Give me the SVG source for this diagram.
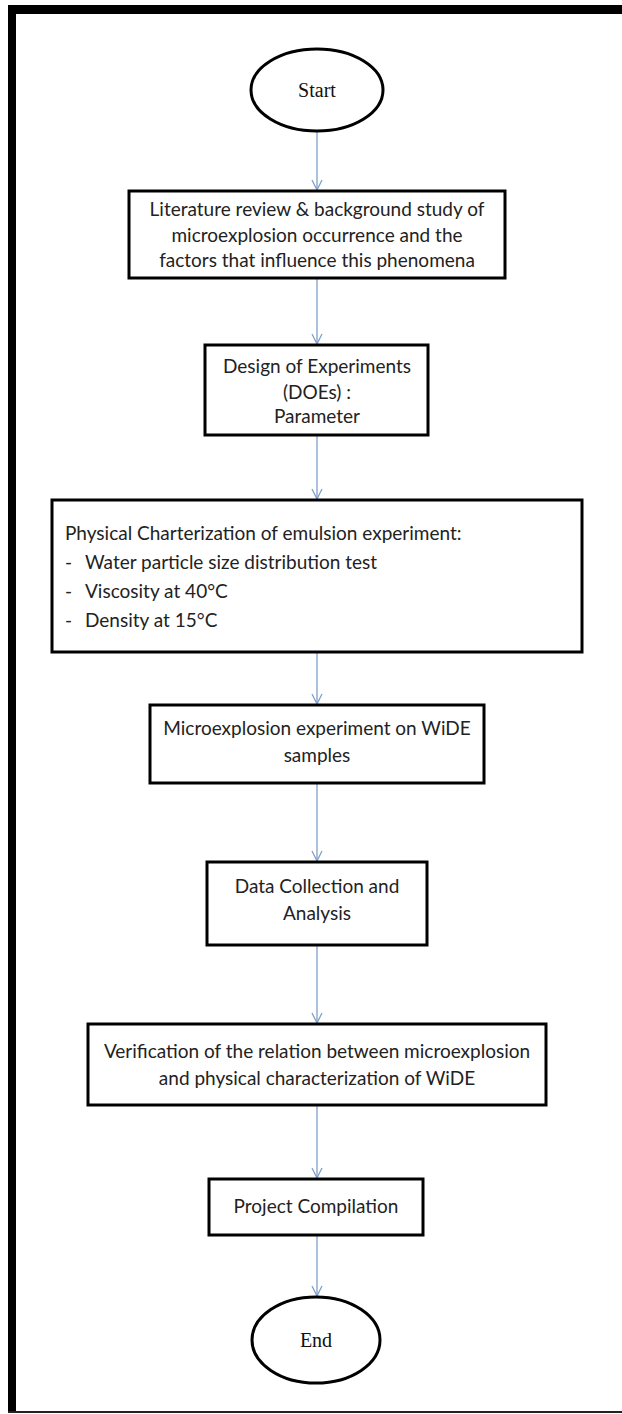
<svg xmlns="http://www.w3.org/2000/svg" width="622" height="1414" viewBox="0 0 622 1414">
<defs>
<style>
.node rect, .node ellipse { fill: #fff; stroke: #000; stroke-width: 3; }
.t { font-family: "Lato", "Open Sans", sans-serif; font-size: 19px; fill: #222; text-anchor: middle; }
.tl { font-family: "Lato", "Open Sans", sans-serif; font-size: 19px; fill: #222; }
.s { font-family: "Liberation Serif", serif; font-size: 20px; fill: #111; text-anchor: middle; }
.conn line { stroke: #7f9fc9; stroke-width: 1.3; marker-end: url(#arr); }
</style>
<marker id="arr" viewBox="0 0 12 12" refX="11" refY="6" markerWidth="12" markerHeight="12" markerUnits="userSpaceOnUse" orient="auto">
<path d="M1,1 L11,6 L1,11" fill="none" stroke="#7f9fc9" stroke-width="1.3"/>
</marker>
</defs>
<rect width="622" height="1414" fill="#fff"/>
<g id="frame">
<rect x="8" y="5" width="614" height="9" fill="#000"/>
<rect x="8" y="5" width="8" height="1408" fill="#000"/>
<rect x="8" y="1411" width="614" height="2" fill="#222"/>
</g>
<g class="conn" id="connectors">
<line x1="317" y1="131" x2="317" y2="190"/>
<line x1="317" y1="278" x2="317" y2="344"/>
<line x1="317" y1="435" x2="317" y2="499"/>
<line x1="317" y1="652" x2="317" y2="704"/>
<line x1="317" y1="783" x2="317" y2="861"/>
<line x1="317" y1="945" x2="317" y2="1023"/>
<line x1="317" y1="1105" x2="317" y2="1178"/>
<line x1="317" y1="1235" x2="317" y2="1296"/>
</g>
<g class="node" id="start">
<ellipse cx="317" cy="90" rx="66" ry="41"/>
<text class="s" x="317" y="97">Start</text>
</g>
<g class="node" id="lit">
<rect x="129" y="191" width="376" height="87"/>
<text class="t" x="317" y="216">Literature review &amp; background study of</text>
<text class="t" x="317" y="242">microexplosion occurrence and the</text>
<text class="t" x="317" y="267">factors that influence this phenomena</text>
</g>
<g class="node" id="doe">
<rect x="205" y="345" width="223" height="90"/>
<text class="t" x="317" y="373">Design  of Experiments</text>
<text class="t" x="317" y="399">(DOEs) :</text>
<text class="t" x="317" y="423">Parameter</text>
</g>
<g class="node" id="phys">
<rect x="52" y="500" width="530" height="152"/>
<text class="tl" x="65" y="540">Physical Charterization of emulsion experiment:</text>
<text class="tl" x="65" y="569">-</text><text class="tl" x="85" y="569">Water particle size distribution test</text>
<text class="tl" x="65" y="598">-</text><text class="tl" x="85" y="598">Viscosity at 40°C</text>
<text class="tl" x="65" y="627">-</text><text class="tl" x="85" y="627">Density at 15°C</text>
</g>
<g class="node" id="micro">
<rect x="150" y="705" width="334" height="78"/>
<text class="t" x="317" y="735">Microexplosion experiment on WiDE</text>
<text class="t" x="317" y="762">samples</text>
</g>
<g class="node" id="data">
<rect x="207" y="862" width="220" height="83"/>
<text class="t" x="317" y="893">Data Collection and</text>
<text class="t" x="317" y="920">Analysis</text>
</g>
<g class="node" id="verif">
<rect x="88" y="1024" width="458" height="81"/>
<text class="t" x="317" y="1058">Verification of the relation between microexplosion</text>
<text class="t" x="317" y="1085">and physical characterization of WiDE</text>
</g>
<g class="node" id="proj">
<rect x="209" y="1179" width="214" height="56"/>
<text class="t" x="316" y="1213">Project Compilation</text>
</g>
<g class="node" id="end">
<ellipse cx="316" cy="1340" rx="64" ry="43"/>
<text class="s" x="316" y="1347">End</text>
</g>
</svg>
